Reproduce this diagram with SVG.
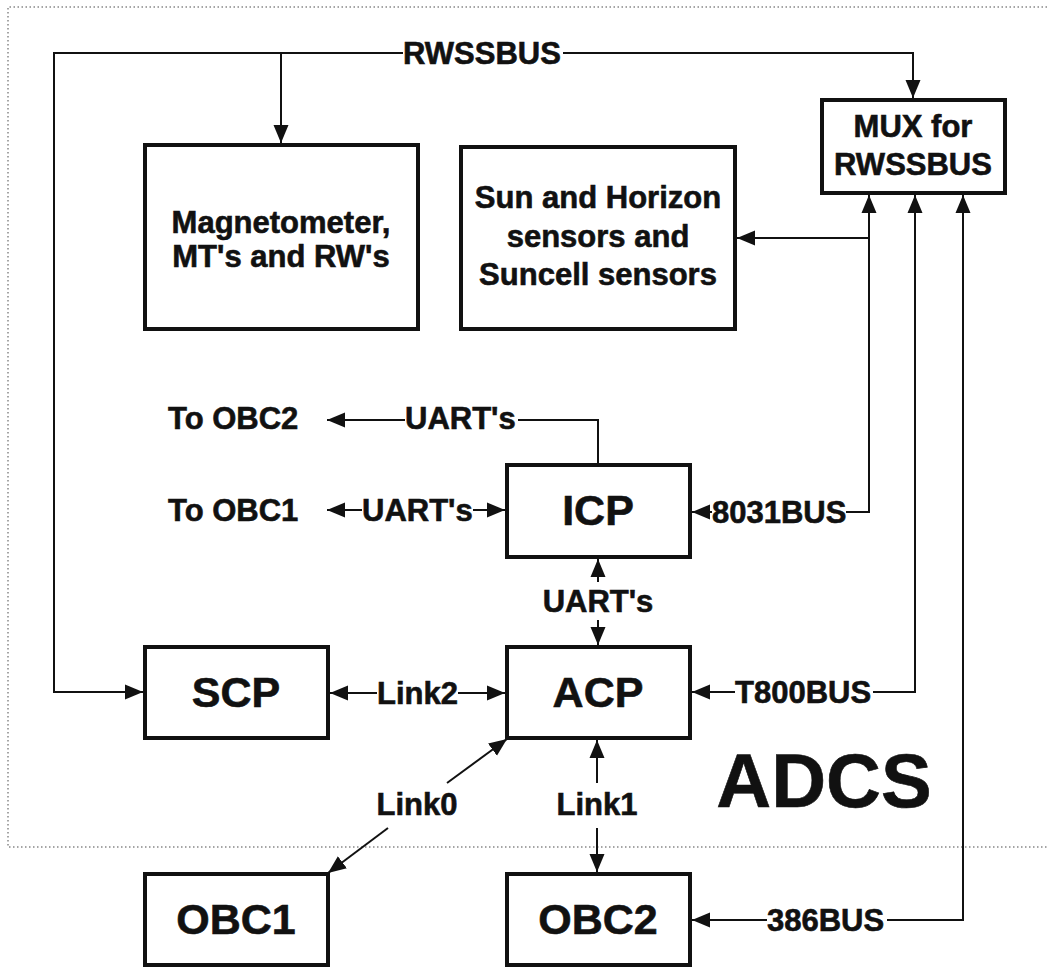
<svg xmlns="http://www.w3.org/2000/svg" width="1047" height="967" viewBox="0 0 1047 967">
<defs>
<style>
.box{fill:none;stroke:#111;stroke-width:4}
.ln{fill:none;stroke:#111;stroke-width:2}
.dot{fill:none;stroke:#888;stroke-width:1.5;stroke-dasharray:1.5 2.5}
text{font-family:"Liberation Sans",Arial,sans-serif;font-weight:bold;fill:#111;stroke:#111;stroke-width:0.6}
.t{font-size:31px}
.big{font-size:43px;text-anchor:middle}
.c{text-anchor:middle}
</style>
<marker id="ah" markerUnits="userSpaceOnUse" markerWidth="19" markerHeight="16" refX="18" refY="8" orient="auto" viewBox="0 0 19 16">
<path d="M0,0.5 L18,8 L0,15.5 z" fill="#111"/>
</marker>
</defs>
<rect width="1047" height="967" fill="#fff"/>
<g id="frame">
<polyline class="dot" points="1047,7 8,7 8,847 1047,847"/>
</g>
<g id="connectors">
<polyline class="ln" points="403,53 54,53 54,692 143,692" marker-end="url(#ah)"/>
<line class="ln" x1="281" y1="53" x2="281" y2="143" marker-end="url(#ah)"/>
<polyline class="ln" points="563,53 913,53 913,98" marker-end="url(#ah)"/>
<polyline class="ln" points="846,512 869,512 869,195" marker-end="url(#ah)"/>
<line class="ln" x1="869" y1="238" x2="737" y2="238" marker-end="url(#ah)"/>
<line class="ln" x1="712" y1="512" x2="692" y2="512" marker-end="url(#ah)"/>
<polyline class="ln" points="873,692 915,692 915,195" marker-end="url(#ah)"/>
<line class="ln" x1="735" y1="692" x2="692" y2="692" marker-end="url(#ah)"/>
<polyline class="ln" points="887,920 963,920 963,195" marker-end="url(#ah)"/>
<line class="ln" x1="767" y1="920" x2="692" y2="920" marker-end="url(#ah)"/>
<polyline class="ln" points="518,420 598,420 598,465"/>
<line class="ln" x1="405" y1="420" x2="327" y2="420" marker-end="url(#ah)"/>
<line class="ln" x1="362" y1="510" x2="327" y2="510" marker-end="url(#ah)"/>
<line class="ln" x1="473" y1="510" x2="505" y2="510" marker-end="url(#ah)"/>
<line class="ln" x1="598" y1="582" x2="598" y2="559" marker-end="url(#ah)"/>
<line class="ln" x1="598" y1="620" x2="598" y2="645" marker-end="url(#ah)"/>
<line class="ln" x1="377" y1="693" x2="330" y2="693" marker-end="url(#ah)"/>
<line class="ln" x1="458" y1="693" x2="505" y2="693" marker-end="url(#ah)"/>
<line class="ln" x1="447" y1="783" x2="507" y2="739" marker-end="url(#ah)"/>
<line class="ln" x1="388" y1="828" x2="328" y2="873" marker-end="url(#ah)"/>
<line class="ln" x1="597" y1="783" x2="597" y2="740" marker-end="url(#ah)"/>
<line class="ln" x1="597" y1="828" x2="597" y2="872" marker-end="url(#ah)"/>
</g>
<g id="labels">
<text class="t" x="403" y="64">RWSSBUS</text>
<text class="t" x="168" y="429">To OBC2</text>
<text class="t" x="405" y="429">UART's</text>
<text class="t" x="168" y="521">To OBC1</text>
<text class="t" x="362" y="521">UART's</text>
<text class="t" x="712" y="523">8031BUS</text>
<text class="t c" x="598" y="612">UART's</text>
<text class="t" x="377" y="704">Link2</text>
<text class="t" x="735" y="703">T800BUS</text>
<text class="t c" x="417" y="815">Link0</text>
<text class="t c" x="597" y="815">Link1</text>
<text class="t" x="767" y="931">386BUS</text>
<text x="824" y="807" style="font-size:76px;text-anchor:middle">ADCS</text>
</g>
<g id="mag">
<rect class="box" x="145" y="145" width="273" height="184"/>
<text class="t c" x="281" y="233">Magnetometer,</text>
<text class="t c" x="281" y="267">MT's and RW's</text>
</g>
<g id="sun">
<rect class="box" x="461" y="147" width="274" height="182"/>
<text class="t c" x="598" y="208">Sun and Horizon</text>
<text class="t c" x="598" y="247">sensors and</text>
<text class="t c" x="598" y="285">Suncell sensors</text>
</g>
<g id="mux">
<rect class="box" x="822" y="100" width="183" height="93"/>
<text class="t c" x="913" y="137">MUX for</text>
<text class="t c" x="913" y="175">RWSSBUS</text>
</g>
<g id="icp">
<rect class="box" x="507" y="465" width="183" height="92"/>
<text class="big" x="598" y="525">ICP</text>
</g>
<g id="scp">
<rect class="box" x="145" y="647" width="183" height="91"/>
<text class="big" x="236" y="707">SCP</text>
</g>
<g id="acp">
<rect class="box" x="507" y="647" width="183" height="91"/>
<text class="big" x="598" y="707">ACP</text>
</g>
<g id="obc1">
<rect class="box" x="145" y="874" width="183" height="91"/>
<text class="big" x="236" y="934">OBC1</text>
</g>
<g id="obc2">
<rect class="box" x="507" y="874" width="183" height="91"/>
<text class="big" x="598" y="934">OBC2</text>
</g>
</svg>
